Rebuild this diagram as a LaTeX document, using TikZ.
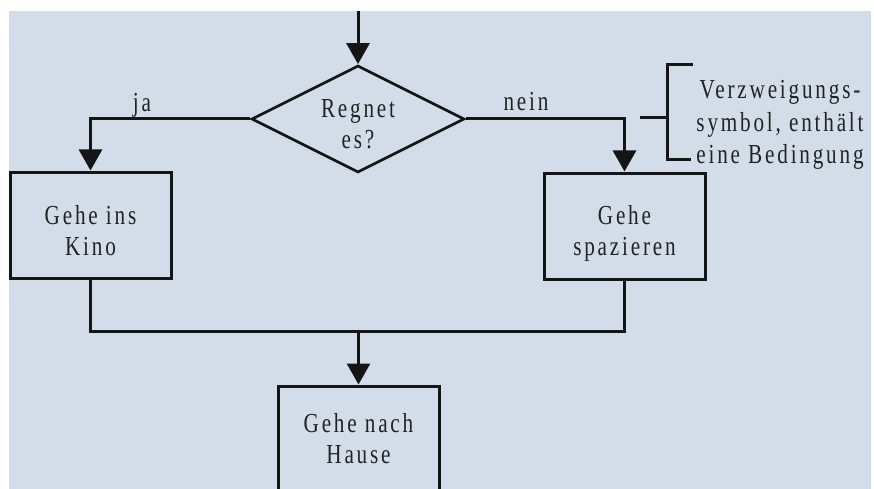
\documentclass[tikz,border=0pt]{standalone}
\usepackage{fontspec}
\setmainfont{Liberation Serif}[FakeStretch=0.77,LetterSpace=10.2]
\usetikzlibrary{arrows.meta,shapes.geometric}
\definecolor{bg}{HTML}{D3DDEA}
\definecolor{ink}{HTML}{151515}
\definecolor{tink}{HTML}{222222}
\newcommand\dtxt{\fontsize{27.5}{31}\selectfont}
\newcommand\btxt{\fontsize{27.5}{32.5}\selectfont}
\begin{document}
\begin{tikzpicture}[x=1pt,y=-1pt,line join=miter,
  ln/.style={line width=3pt, draw=ink},
  arr/.style={ln,-{Triangle[length=21pt,width=23pt]}},
  boxshape/.style={draw=ink,line width=3pt, minimum width=161pt, minimum height=106pt, inner sep=0pt},
  txt/.style={text=tink, align=center, font=\dtxt, inner sep=0pt}
]
\useasboundingbox (0,0) rectangle (874,489);
\fill[bg] (9,11) rectangle (871,489);
\begin{scope}
\clip (9,11) rectangle (871,489);
% shapes
\node[diamond, draw=ink, line width=2.7pt, minimum width=213pt, minimum height=107pt, inner sep=0pt] (d) at (358,119) {};
\node[boxshape] (lb) at (90.5,225) {};
\node[boxshape] (rb) at (624.5,226) {};
\node[boxshape, minimum height=120pt] (bb) at (358.5,446) {};
% texts
\node[txt] (dt) at (358,124.5) {Regnet\\es?};
\node[txt] (lt) at (90.5,230.5) {Gehe ins\\Kino};
\node[txt] (rt) at (624.5,233) {Gehe\\spazieren};
\node[txt] (bt) at (358.5,438.5) {Gehe nach\\Hause};
\node[txt, anchor=base] (ja) at (142,112) {ja};
\node[txt, anchor=base] (nein) at (526,111) {nein};
\node[txt, font=\btxt] (note) at (780,125) {Verzweigungs-\\symbol, enthält\\eine Bedingung};
% connectors
\coordinate (top) at (358,11);
\coordinate (jn) at (358.5,331);
\draw[arr] (top) -- (d.north);
\draw[arr] (d.west) -| (lb.north);
\draw[arr] (d.east) -| (rb.north);
\draw[ln] (lb.south) |- (jn) -| (rb.south);
\draw[arr] (jn) -- (bb.north);
% bracket
\coordinate (bt1) at (693,65);
\coordinate (bb1) at (691,160);
\coordinate (bs) at (640,118);
\draw[ln] (bt1) -- (667,65) -- (667,160) -- (bb1);
\draw[ln] (bs) -- (667,118);
\end{scope}
\end{tikzpicture}
\end{document}
